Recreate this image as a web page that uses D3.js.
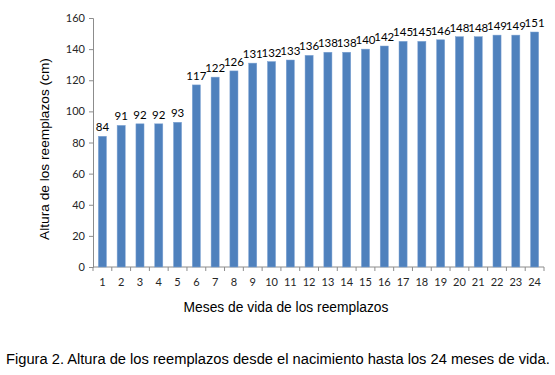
<!DOCTYPE html>
<html>
<head>
<meta charset="utf-8">
<script src="https://cdn.jsdelivr.net/npm/d3@7"></script>
<style>
  body { margin: 0; background: #fff; }
  svg text { font-family: Lato, "Open Sans", sans-serif; }
</style>
</head>
<body>
<svg id="chart" width="555" height="375"></svg>
<script>
// Months and average height (cm)
const months = d3.range(1, 25).map(String);
const heights = [84, 91, 92, 92, 93, 117, 122, 126, 131, 132, 133, 136,
                 138, 138, 140, 142, 145, 145, 146, 148, 148, 149, 149, 151];
const yTicks = [0, 20, 40, 60, 80, 100, 120, 140, 160];

const svg = d3.select("#chart");
const plot = { left: 93, right: 544, top: 18, bottom: 267 };
const sans = "'Liberation Sans', Arial, sans-serif";

const x = d3.scaleBand().domain(months).range([plot.left, plot.right]).paddingInner(0.57).paddingOuter(0.285);
const xTick = d3.scaleLinear().domain([0, months.length]).range([plot.left, plot.right]);
const y = d3.scaleLinear().domain([0, 160]).range([plot.bottom, plot.top]);

// y axis
const yAxis = svg.append("g")
    .attr("transform", `translate(${plot.left},0)`)
    .call(d3.axisLeft(y).tickValues(yTicks).tickSize(4).tickPadding(4));
yAxis.select(".domain").attr("stroke", "#8c8c8c");
yAxis.selectAll(".tick line").attr("stroke", "#8c8c8c");
yAxis.selectAll("text").attr("font-size", 11).attr("fill", "#262626");

// x axis line and boundary ticks
svg.append("line")
    .attr("x1", plot.left).attr("x2", plot.right)
    .attr("y1", plot.bottom).attr("y2", plot.bottom)
    .attr("stroke", "#8c8c8c");
svg.selectAll(".xt")
    .data(d3.range(0, months.length + 1))
    .enter().append("line")
    .attr("x1", d => xTick(d)).attr("x2", d => xTick(d))
    .attr("y1", plot.bottom).attr("y2", plot.bottom + 4)
    .attr("stroke", "#8c8c8c");
svg.selectAll(".xl")
    .data(months)
    .enter().append("text")
    .attr("x", d => x(d) + x.bandwidth() / 2)
    .attr("y", plot.bottom + 19)
    .attr("text-anchor", "middle")
    .attr("font-size", 11)
    .attr("fill", "#262626")
    .text(d => d);

// bars
svg.selectAll(".bar")
    .data(heights)
    .enter().append("rect")
    .attr("x", (d, i) => x(months[i]))
    .attr("y", d => y(d))
    .attr("width", x.bandwidth())
    .attr("height", d => y(0) - y(d))
    .attr("fill", "#4f81bd")
    .attr("stroke", "#7ea3d3")
    .attr("stroke-width", 0.5);

// value labels
svg.selectAll(".val")
    .data(heights)
    .enter().append("text")
    .attr("x", (d, i) => x(months[i]) + x.bandwidth() / 2)
    .attr("y", d => y(d) - 5)
    .attr("text-anchor", "middle")
    .attr("font-size", 11.5)
    .attr("fill", "#000")
    .text(d => d);

// axis titles
svg.append("text")
    .attr("transform", "translate(49,149) rotate(-90)")
    .attr("text-anchor", "middle")
    .attr("font-size", 13.7)
    .attr("fill", "#000")
    .style("font-family", sans)
    .text("Altura de los reemplazos (cm)");
svg.append("text")
    .attr("x", 286).attr("y", 312)
    .attr("text-anchor", "middle")
    .attr("font-size", 13.8)
    .attr("fill", "#000")
    .style("font-family", sans)
    .text("Meses de vida de los reemplazos");

// caption
svg.append("text")
    .attr("x", 6).attr("y", 364)
    .attr("font-size", 14.7)
    .attr("fill", "#000")
    .style("font-family", sans)
    .text("Figura 2. Altura de los reemplazos desde el nacimiento hasta los 24 meses de vida.");
</script>
</body>
</html>
